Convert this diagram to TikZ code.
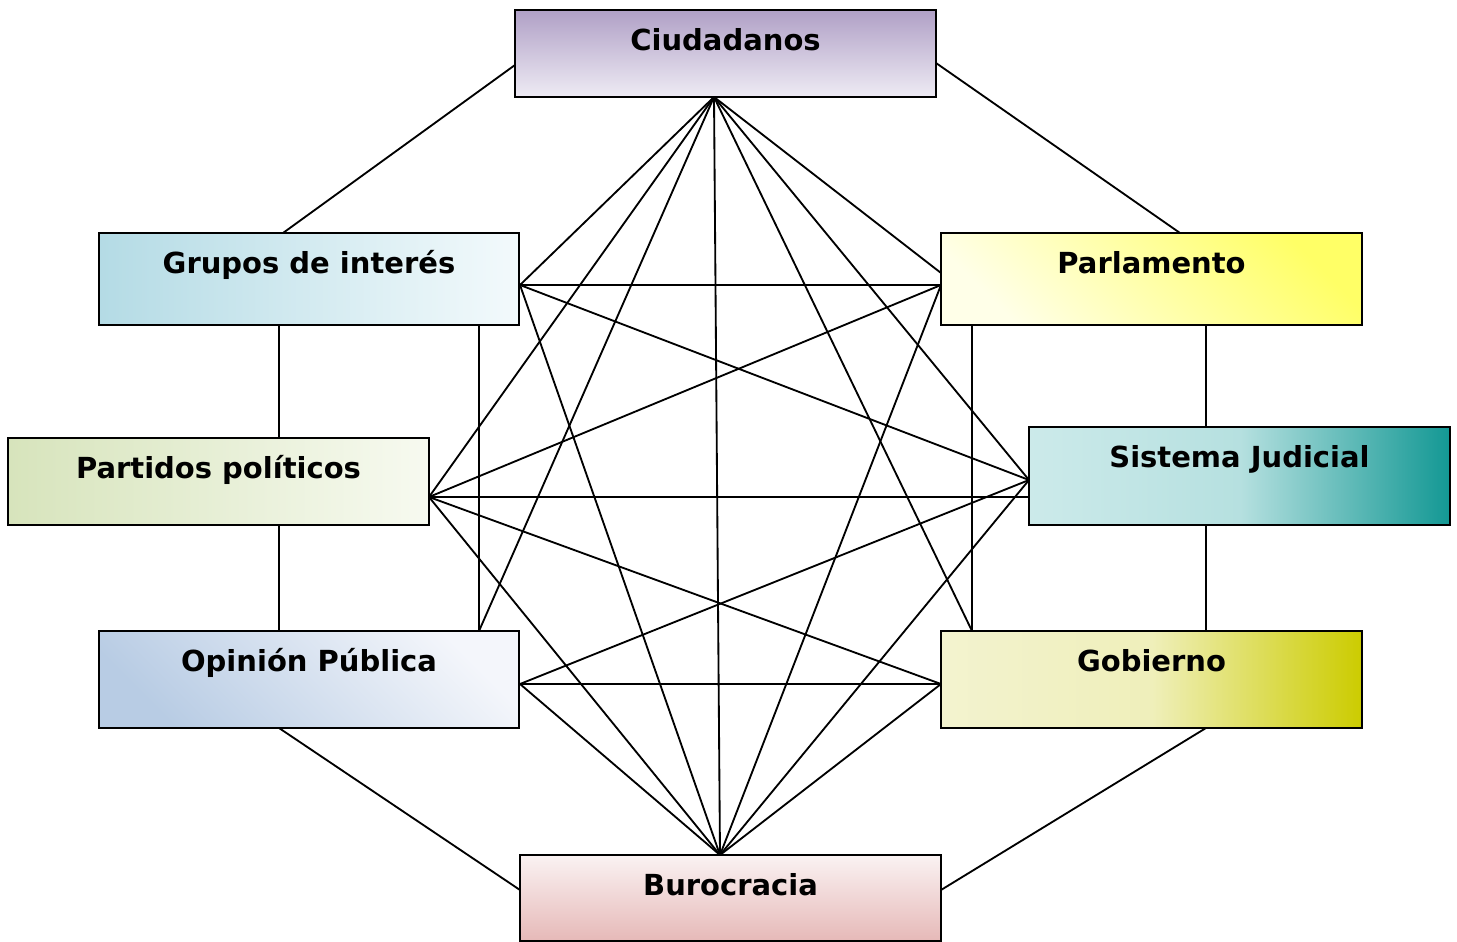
\documentclass[tikz,border=0pt]{standalone}
\usepackage{fontspec}
\setmainfont{DejaVu Sans}

\definecolor{ciudtop}{HTML}{B0A0C6}
\definecolor{ciudbot}{HTML}{EEEBF4}
\definecolor{grul}{HTML}{B4DBE5}
\definecolor{grur}{HTML}{F3FAFC}
\definecolor{parll}{HTML}{FFFFE8}
\definecolor{parld}{HTML}{FFFF66}
\definecolor{partl}{HTML}{D7E4BC}
\definecolor{partr}{HTML}{F7FAF0}
\definecolor{sistl}{HTML}{CCEAEA}
\definecolor{sistd}{HTML}{139894}
\definecolor{opind}{HTML}{B8CCE4}
\definecolor{opinl}{HTML}{F4F6FB}
\definecolor{gobl}{HTML}{F3F3CF}
\definecolor{gobd}{HTML}{CCCC00}
\definecolor{burotop}{HTML}{FAF2F2}
\definecolor{burobot}{HTML}{E6B9B8}

\tikzset{
  box/.style={draw, line width=1.1pt, minimum width=8.42cm, inner sep=0pt},
  lbl/.style={anchor=base, yshift=-0.82cm, inner sep=0pt,
              font=\fontsize{16.5}{19}\selectfont\bfseries},
  wire/.style={line width=1.05pt}
}

\begin{document}
\begin{tikzpicture}[x=0.02cm, y=-0.02cm]
    \useasboundingbox (0,0) rectangle (1457,942);

    % boxes
    \node[box, minimum height=1.74cm, top color=ciudtop, bottom color=ciudbot,
          label={[lbl]north:Ciudadanos}] (ciud) at (725.5,53.5) {};
    \node[box, minimum height=1.84cm, left color=grul, right color=grur,
          label={[lbl]north:Grupos de interés}] (grupos) at (309,279) {};
    \node[box, minimum height=1.84cm, bottom color=parll, top color=parld, shading angle=-45,
          label={[lbl]north:Parlamento}] (parl) at (1151.5,279) {};
    \node[box, minimum height=1.74cm, left color=partl, right color=partr,
          label={[lbl]north:Partidos políticos}] (partidos) at (218.5,481.5) {};
    \node[box, minimum height=1.96cm, left color=sistl, right color=sistd, middle color=sistl!88!sistd,
          label={[lbl]north:Sistema Judicial}] (sistema) at (1239.5,476) {};
    \node[box, minimum height=1.94cm, bottom color=opind, top color=opinl, shading angle=-45,
          label={[lbl]north:Opinión Pública}] (opinion) at (309,679.5) {};
    \node[box, minimum height=1.94cm, left color=gobl, right color=gobd, middle color=gobl!90!gobd,
          label={[lbl]north:Gobierno}] (gobierno) at (1151.5,679.5) {};
    \node[box, minimum height=1.72cm, top color=burotop, bottom color=burobot,
          label={[lbl]north:Burocracia}] (buro) at (730.5,898) {};

    % outer ring
    \coordinate (cW) at (515,65);    \coordinate (gN) at (283,233);
    \coordinate (cE) at (936,63);    \coordinate (pN) at (1180,233);
    \coordinate (gS) at (279,325);   \coordinate (ppN) at (279,438);
    \coordinate (pS) at (1206,325);  \coordinate (sjN) at (1206,427);
    \coordinate (ppS) at (279,525);  \coordinate (opN) at (279,631);
    \coordinate (sjS) at (1206,525); \coordinate (gobN) at (1206,631);
    \coordinate (opS) at (279,728);  \coordinate (bW) at (520,890);
    \coordinate (gobS) at (1206,728); \coordinate (bE) at (941,890);

    \foreach \a/\b in {cW/gN, cE/pN, gS/ppN, pS/sjN, ppS/opN, sjS/gobN, opS/bW, gobS/bE}
        \draw[wire] (\a)--(\b);

    % inner hubs
    \coordinate (hC) at (714,97);
    \coordinate (hG) at (520,285);   \coordinate (hGb) at (479,325);
    \coordinate (hP) at (941,285);   \coordinate (hPc) at (941,273); \coordinate (hPb) at (972,325);
    \coordinate (hPP) at (429,497);
    \coordinate (hSJ) at (1029,480); \coordinate (hSJh) at (1029,497);
    \coordinate (hOP) at (520,684);  \coordinate (hOPt) at (479,631);
    \coordinate (hGob) at (941,684); \coordinate (hGobt) at (972,631);
    \coordinate (hB) at (720,855);

    \foreach \b in {hG, hPc, hPP, hSJ, hOPt, hGobt, hB} \draw[wire] (hC)--(\b);
    \foreach \a/\b in {hG/hP, hG/hSJ, hG/hB, hP/hPP, hP/hB, hPP/hSJh, hPP/hGob, hPP/hB,
                       hSJ/hOP, hSJ/hB, hOP/hGob, hOP/hB, hGob/hB, hGb/hOPt, hPb/hGobt}
        \draw[wire] (\a)--(\b);
\end{tikzpicture}
\end{document}
